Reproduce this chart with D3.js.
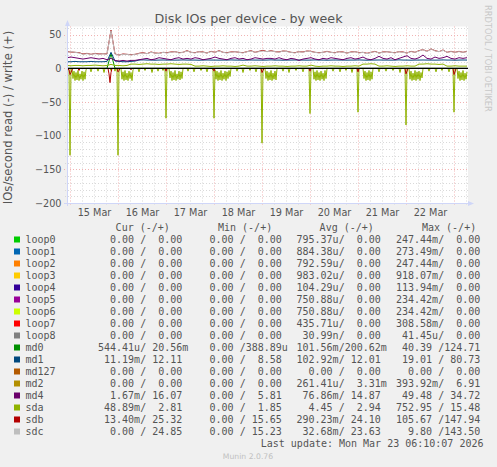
<!DOCTYPE html>
<html>
<head>
<meta charset="utf-8">
<script src="https://cdn.jsdelivr.net/npm/d3@7"></script>
<style>
  body { margin: 0; background: #f0f0f0; }
  text { font-family: "DejaVu Sans", sans-serif; }
  .mono { font-family: "DejaVu Sans Mono", monospace; font-size: 10px; fill: #555; white-space: pre; }
</style>
</head>
<body>
<svg id="chart" width="497" height="467"></svg>
<script>
// ---- data ----
// time window: 14 Mar 22:30 -> 23 Mar 06:30, write series sampled every 2h
var startTime = new Date(2026, 2, 14, 22, 30)
var endTime = new Date(2026, 2, 23, 6, 30)
var midnight15 = new Date(2026, 2, 15, 0, 0)

// write (+) series, one value every 2 hours
var sdcWrite = [24,25,24,23,21,22,21,22,21,22,21, 56, 21,20,21,21,20,21,22,
  23,22,24,23,22,24,23, 24,25,23,24,26,24,23,25,24,23,25,24,26,24,23,
  24,25,24,23,25,26,24,25,26,25, 26,25,24,26,25,24,23,25,24,26,25,24,23,24,25,
  24,23,25,24,23,24,25,23,24,22,24,25,23,24,25,24,23,25,24,23,
  25,24,26,28,25,29,26, 25,27,24,25,24,25,24,25]
var sdbWrite = [25,24.5,24,23.5,21.5,22.5,21,22.5,21.5,22,21.5, 57, 21.5,20,21.5,21,20.5,21,22.5,
  23.5,22,24.5,23,22.5,24,23.5, 24.5,25,23.5,24,26.5,24,23.5,25,24.5,23,25.5,24,26.5,24,23.5,
  24.5,25,24,23.5,25,26.5,24,25.5,27,25, 26.5,25,24.5,26,25.5,24,23.5,25,24.5,26,25.5,24,23.5,24,25.5,
  24,23.5,25,24.5,23,24.5,25,23.5,24,22.5,24,25.5,23,24.5,25,24,23.5,25,24.5,23,
  25.5,24,26.5,28,25.5,29,26.5, 25,27.5,24,25.5,24,25.5,24,25.5]
var md4Write = [16,17,16,15,14,15,16,15,14,15,13, 15, 12,11,12,11,12,12,13,
  14,15,13,14,16,15,14,13,15,16,14,15,
  14,16,15,13,14,15,17,15,14,13,15,16,14,15,13,14,16,15,14,15,
  15,14,16,14,13,15,14,12,14,15,16,14,13,15,14,16,15,14,13,15,
  16,14,15,17,14,13,15,18,15,14,16,13,15,17,19,15,14,16,20,15,14,17,15,16,18,15,14,16,15,16]
var md1Write = [10,10,10.5,10,10,10,10.5,10,10,10,10.5,24,11,10.5,10,10,10.5,11,
  12.5,12.8,12.5,12.5,12.3,12.5,12.6,12.5,12.5,12.4,
  12.5,12.7,12.5,12.5,12.5,12.3,12.5,12.6,12.5,12.5,
  12.4,12.5,12.5,12.7,12.5,12.5,12.3,12.5,12.6,12.5,
  12.5,12.4,12.5,12.8,12.5,12.5,12.3,12.5,12.5,12.6,
  12.5,12.5,12.4,12.5,12.7,12.5,12.5,12.3,12.5,12.6,
  12.5,12.5,12.4,12.5,12.5,12.7,12.5,12.3,12.5,12.5,
  12.6,12.5,12.5,12.4,12.5,12.8,12.5,12.5,12.3,12.5,
  12.5,12.6,12.5,12.5,12.4,12.5,12.7,12.5,12.5,12.3,
  12.5,12.6,12.5]
var sdaWrite = [4.5,4,4.5,4.5,4,4.5,4.5,5,4.5,4,4.5,6,4.5,4.5,4,4.5,
  6.5,6.5,6,6.5,7,6.5,6.5,6,6.5,6.5,7,6.5,6,6.5,6.5,6,
  3.5,3.5,4,3.5,3,3.5,3.5,4,3.5,3.5, 3,3.5,5,3.5,3.5,4,3.5,3,3.5,3.5,
  4,3.5,3.5,3,3.5,3.5,4,3.5,3.5,5, 3.5,3,3.5,3.5,4,3.5,3.5,3,3.5,3.5, 4,3.5,
  6.5,6.5,7,6.5, 3.5,3.5,4,3.5,3,3.5,3.5,4,3.5,3.5,
  6.5,6.5,7,6.5,6.5,6,6.5, 3.5,3.5,4,3.5,3.5,3.5]

// sparse series: [hours after 15 Mar 00:00, value]
var md0Write = [[-1.5,0.2],[18.5,0.2],[20.5,22],[22.5,0.3],[198.5,0.2]]

var sdbRead = [[-1.5,0],[-0.5,-2],[0,-9],[0.5,-6],[1,-2],[1.5,0],[4,0],[4.5,-3],[5,0],
  [19,0],[19.5,-8],[20,-21],[20.5,-6],[21,0],[23.5,0],[24,-5],[24.5,-3],[25,0],
  [30,0],[30.5,-2],[31,0],[47.5,0],[48,-4],[48.5,0],[71.5,0],[72,-4],[72.5,0],
  [95.5,0],[96,-6],[96.5,-3],[97,0],[119.5,0],[120,-4],[120.5,0],[143.5,0],[144,-5],[144.5,0],
  [167.5,0],[168,-8],[168.5,-4],[169,0],[191.5,0],[192,-9],[192.5,-5],[193,0],[198.5,0]]

var sdaRead = [[-1.5,0],[-1,-2],[-0.5,0],
  [0,-129],[0.5,0],[1,0],[1.5,-15],[2,-4],[2.5,-18],[3,-6],[3.5,-17],[4,-3],[4.5,-18],[5,-8],[5.5,-16],[6,-4],[6.5,-18],[7,-5],[7.5,-16],[8,-2],[8.5,0],[10,0],[10.5,-5],[11,0],[13.5,0],[14,-4],[14.5,0],[16.5,0],[17,-6],[17.5,0],[20,0],[20.5,-3],[21,0],[22,0],[22.5,-4],[23,0],[23.5,0],
  [24,-129],[24.5,0],[25.5,0],[26,-16],[26.5,-5],[27,-18],[27.5,-3],[28,-17],[28.5,-7],[29,-18],[29.5,-4],[30,-15],[30.5,-6],[31,-18],[31.5,-2],[32,0],[34,0],[34.5,-5],[35,0],[37,0],[37.5,-3],[38,0],[40.5,0],[41,-6],[41.5,0],[43.5,0],[44,-4],[44.5,0],[46,0],[46.5,-3],[47,0],[47.5,0],
  [48,-74],[48.5,0],[49.5,0],[50,-14],[50.5,-4],[51,-18],[51.5,-6],[52,-17],[52.5,-3],[53,-18],[53.5,-8],[54,-16],[54.5,-4],[55,-17],[55.5,-5],[56,-15],[56.5,0],[58.5,0],[59,-4],[59.5,0],[61.5,0],[62,-5],[62.5,0],[65,0],[65.5,-3],[66,0],[68,0],[68.5,-5],[69,0],[71,0],[71.5,-3],
  [72,-74],[72.5,-2],[73,-16],[73.5,-4],[74,-18],[74.5,-6],[75,-17],[75.5,-3],[76,-18],[76.5,-7],[77,-16],[77.5,-4],[78,-18],[78.5,-5],[79,-15],[79.5,-3],[80,-12],[80.5,0],[83,0],[83.5,-4],[84,0],[86,0],[86.5,-6],[87,0],[89.5,0],[90,-3],[90.5,0],[92.5,0],[93,-5],[93.5,0],[95.5,0],
  [96,-111],[96.5,0],[97.5,0],[98,-15],[98.5,-4],[99,-18],[99.5,-6],[100,-17],[100.5,-3],[101,-18],[101.5,-7],[102,-16],[102.5,-4],[103,-17],[103.5,0],[106,0],[106.5,-4],[107,0],[109,0],[109.5,-6],[110,0],[112.5,0],[113,-3],[113.5,0],[116,0],[116.5,-5],[117,0],[119.5,0],
  [120,-67],[120.5,0],[121.5,0],[122,-16],[122.5,-5],[123,-18],[123.5,-3],[124,-17],[124.5,-6],[125,-18],[125.5,-4],[126,-16],[126.5,-7],[127,-18],[127.5,-3],[128,-15],[128.5,0],[131,0],[131.5,-4],[132,0],[134.5,0],[135,-5],[135.5,0],[137.5,0],[138,-3],[138.5,0],[140.5,0],[141,-6],[141.5,0],[143.5,0],
  [144,-65],[144.5,0],[146.5,0],[147,-15],[147.5,-4],[148,-18],[148.5,-6],[149,-17],[149.5,-3],[150,-18],[150.5,-5],[151,-16],[151.5,0],[154,0],[154.5,-5],[155,0],[157.5,0],[158,-4],[158.5,0],[161,0],[161.5,-3],[162,0],[164.5,0],[165,-6],[165.5,0],[167.5,0],
  [168,-84],[168.5,0],[169.5,0],[170,-16],[170.5,-4],[171,-18],[171.5,-7],[172,-17],[172.5,-3],[173,-18],[173.5,-5],[174,-16],[174.5,-4],[175,-18],[175.5,-6],[176,-14],[176.5,0],[179,0],[179.5,-4],[180,0],[182.5,0],[183,-5],[183.5,0],[185.5,0],[186,-3],[186.5,0],[189,0],[189.5,-5],[190,0],[191.5,0],
  [192,-65],[192.5,0],[193.5,0],[194,-15],[194.5,-4],[195,-18],[195.5,-6],[196,-17],[196.5,-3],[197,-18],[197.5,-7],[198,-16],[198.5,-5]]

// legend table
var legendNames = ["loop0","loop1","loop2","loop3","loop4","loop5","loop6","loop7","loop8",
  "md0","md1","md127","md2","md4","sda","sdb","sdc"]
var legendColors = ["#00CC00","#0066B3","#FF8000","#FFCC00","#330099","#990099","#CCFF00","#FF0000","#808080",
  "#008F00","#00487D","#B35A00","#B38F00","#6B006B","#8FB300","#B30000","#BEBEBE"]
var curText = ["  0.00 /  0.00","  0.00 /  0.00","  0.00 /  0.00","  0.00 /  0.00","  0.00 /  0.00","  0.00 /  0.00","  0.00 /  0.00","  0.00 /  0.00","  0.00 /  0.00",
  "544.41u/ 20.56m"," 11.19m/ 12.11","  0.00 /  0.00","  0.00 /  0.00","  1.67m/ 16.07"," 48.89m/  2.81"," 13.40m/ 25.32","  0.00 / 24.85"]
var minText = ["  0.00 /  0.00","  0.00 /  0.00","  0.00 /  0.00","  0.00 /  0.00","  0.00 /  0.00","  0.00 /  0.00","  0.00 /  0.00","  0.00 /  0.00","  0.00 /  0.00",
  "  0.00 /388.89u","  0.00 /  8.58","  0.00 /  0.00","  0.00 /  0.00","  0.00 /  5.81","  0.00 /  1.85","  0.00 / 15.65","  0.00 / 15.23"]
var avgText = ["795.37u/  0.00","884.38u/  0.00","792.59u/  0.00","983.02u/  0.00","104.29u/  0.00","750.88u/  0.00","750.88u/  0.00","435.71u/  0.00"," 30.99n/  0.00",
  "101.56m/200.62m","102.92m/ 12.01","  0.00 /  0.00","261.41u/  3.31m"," 76.86m/ 14.87","  4.45 /  2.94","290.23m/ 24.10"," 32.68m/ 23.63"]
var maxText = ["247.44m/  0.00","273.49m/  0.00","247.44m/  0.00","918.07m/  0.00","113.94m/  0.00","234.42m/  0.00","234.42m/  0.00","308.58m/  0.00"," 41.45u/  0.00",
  " 40.39 /124.71"," 19.01 / 80.73","  0.00 /  0.00","393.92m/  6.91"," 49.48 / 34.72","752.95 / 15.48","105.67 /147.94","  9.80 /143.50"]
var yTicks = [-200, -150, -100, -50, 0, 50]

// ---- drawing ----
var svg = d3.select("#chart")
var pLeft = 67, pRight = 468, pTop = 26.5, pBottom = 203

svg.append("rect").attr("width", 497).attr("height", 467).attr("fill", "#f0f0f0")
svg.append("rect").attr("x", pLeft).attr("y", pTop).attr("width", pRight - pLeft).attr("height", pBottom - pTop).attr("fill", "#ffffff")

var x = d3.scaleTime().domain([startTime, endTime]).range([pLeft, 467])
var y = d3.scaleLinear().domain([-200, 62.4]).range([pBottom, pTop])

function px(v){ return Math.round(v) + 0.5 }

// grid (dotted, like rrdtool)
var grid = svg.append("g")
var minorY = d3.range(-200, 62, 10).filter(function(v){ return v % 50 != 0 })
var hours6 = d3.timeHour.every(6).range(startTime, endTime).filter(function(d){ return d.getHours() != 0 })
var days = d3.timeDay.range(startTime, endTime)
var minorCol = "#d9d9d9", majorCol = "#f1b3b3"

grid.selectAll(".hmin").data(minorY).enter().append("line")
  .attr("x1", pLeft - 2).attr("x2", pRight).attr("y1", function(d){ return px(y(d)) }).attr("y2", function(d){ return px(y(d)) })
  .attr("stroke", minorCol).attr("stroke-dasharray", "1,2")
grid.selectAll(".vmin").data(hours6).enter().append("line")
  .attr("x1", function(d){ return px(x(d)) }).attr("x2", function(d){ return px(x(d)) }).attr("y1", pTop).attr("y2", pBottom + 2)
  .attr("stroke", minorCol).attr("stroke-dasharray", "1,2")
grid.selectAll(".hmaj").data(yTicks).enter().append("line")
  .attr("x1", pLeft - 3).attr("x2", pRight).attr("y1", function(d){ return px(y(d)) }).attr("y2", function(d){ return px(y(d)) })
  .attr("stroke", majorCol).attr("stroke-dasharray", "1,2")
grid.selectAll(".vmaj").data(days).enter().append("line")
  .attr("x1", function(d){ return px(x(d)) }).attr("x2", function(d){ return px(x(d)) }).attr("y1", pTop).attr("y2", pBottom + 3)
  .attr("stroke", majorCol).attr("stroke-dasharray", "1,2")

// series
svg.append("clipPath").attr("id", "plotclip").append("rect")
  .attr("x", pLeft).attr("y", pTop).attr("width", pRight - pLeft).attr("height", pBottom - pTop)
var plot = svg.append("g").attr("clip-path", "url(#plotclip)")

function dense(vals){ return vals.map(function(v, i){ return [d3.timeMinute.offset(startTime, i * 120), v] }) }
function sparse(pairs){ return pairs.map(function(p){ return [d3.timeMinute.offset(midnight15, p[0] * 60), p[1]] }) }

var line = d3.line().x(function(d){ return x(d[0]) }).y(function(d){ return y(d[1]) })

var drawList = [
  [sparse(md0Write), "#008F00"],
  [dense(md1Write), "#00487D"],
  [dense(md4Write), "#6B006B"],
  [sparse(sdaRead), "#8FB300"],
  [dense(sdaWrite), "#8FB300"],
  [sparse(sdbRead), "#B30000"],
  [dense(sdbWrite), "#B30000"],
  [dense(sdcWrite), "#BEBEBE"]
]
drawList.forEach(function(s){
  plot.append("path").attr("d", line(s[0])).attr("fill", "none").attr("stroke", s[1]).attr("stroke-width", 1)
})

// zero line
plot.append("line").attr("x1", pLeft).attr("x2", pRight).attr("y1", y(0)).attr("y2", y(0))
  .attr("stroke", "#000").attr("stroke-width", 1.2)

// axes lines + arrows
var axisCol = "#CFD6F8"
svg.append("line").attr("x1", pLeft + 0.5).attr("x2", pLeft + 0.5).attr("y1", pBottom + 3).attr("y2", 24).attr("stroke", axisCol)
svg.append("line").attr("x1", pLeft - 3).attr("x2", 470).attr("y1", pBottom + 0.5).attr("y2", pBottom + 0.5).attr("stroke", axisCol)
svg.append("path").attr("d", "M" + (pLeft + 0.5) + ",20 L" + (pLeft - 2) + ",26 L" + (pLeft + 3) + ",26 Z").attr("fill", axisCol)
svg.append("path").attr("d", "M474," + (pBottom + 0.5) + " L468," + (pBottom - 2) + " L468," + (pBottom + 3) + " Z").attr("fill", axisCol)

// tick labels
var yAxis = svg.append("g").attr("transform", "translate(" + pLeft + ",0)")
  .call(d3.axisLeft(y).tickValues(yTicks).tickSize(0).tickPadding(5.5))
yAxis.select(".domain").remove()
yAxis.selectAll("text").attr("font-family", "DejaVu Sans").attr("font-size", "9.7px").attr("fill", "#555")

var noons = days.map(function(d){ return d3.timeHour.offset(d, 12) }).filter(function(d){ return d < endTime })
var xAxis = svg.append("g").attr("transform", "translate(0," + pBottom + ")")
  .call(d3.axisBottom(x).tickValues(noons).tickFormat(d3.timeFormat("%d %b")).tickSize(0).tickPadding(6.3))
xAxis.select(".domain").remove()
xAxis.selectAll("text").attr("font-family", "DejaVu Sans").attr("font-size", "9.7px").attr("fill", "#555")

// titles
svg.append("text").attr("x", 248.5).attr("y", 23.3).attr("text-anchor", "middle")
  .attr("font-size", "12.7px").attr("fill", "#555").text("Disk IOs per device - by week")
svg.append("text").attr("transform", "translate(11.5,117.5) rotate(-90)").attr("text-anchor", "middle")
  .attr("font-size", "11.6px").attr("fill", "#555").text("IOs/second read (-) / write (+)")
svg.append("text").attr("transform", "translate(484.5,5) rotate(90)").attr("text-anchor", "start")
  .attr("font-size", "8.3px").attr("fill", "#c8c8c8").text("RRDTOOL / TOBI OETIKER")

// legend
var rowY0 = 239.5, rowH = 12
var cols = [98, 197.5, 296.5, 396]
var headers = ["Cur (-/+)", "Min (-/+)", "Avg (-/+)", "Max (-/+)"]
var headerEnd = [169.8, 272.2, 373.8, 476.2]
headers.forEach(function(h, j){
  svg.append("text").attr("class", "mono").attr("x", headerEnd[j]).attr("y", 231.3).attr("text-anchor", "end").text(h)
})

var rows = svg.selectAll(".legrow").data(legendNames).enter().append("g")
  .attr("transform", function(d, i){ return "translate(0," + (rowY0 + i * rowH) + ")" })
rows.append("rect").attr("x", 14).attr("y", -3).attr("width", 6).attr("height", 6)
  .attr("fill", function(d, i){ return legendColors[i] })
rows.append("text").attr("class", "mono").attr("x", 25.5).attr("y", 3.4).text(function(d){ return d })
var colTexts = [curText, minText, avgText, maxText]
colTexts.forEach(function(arr, j){
  rows.append("text").attr("class", "mono").attr("x", cols[j]).attr("y", 3.4).text(function(d, i){ return arr[i] })
})

svg.append("text").attr("class", "mono").attr("x", 483.5).attr("y", 447.2).attr("text-anchor", "end")
  .text("Last update: Mon Mar 23 06:10:07 2026")
svg.append("text").attr("x", 248).attr("y", 458.5).attr("text-anchor", "middle")
  .attr("font-size", "7.7px").attr("fill", "#c0c0c0").text("Munin 2.0.76")
</script>
</body>
</html>
